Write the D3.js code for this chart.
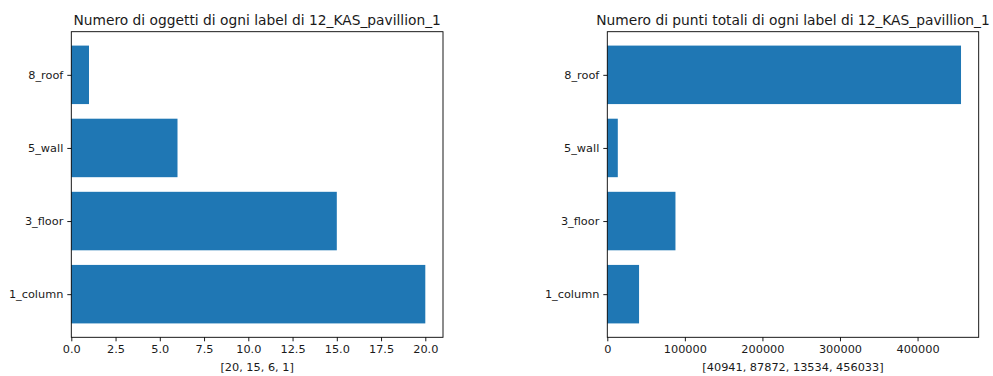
<!DOCTYPE html>
<html>
<head>
<meta charset="utf-8">
<script src="https://cdn.jsdelivr.net/npm/d3@7"></script>
<style>
  html, body { margin: 0; padding: 0; background: #fff; }
  svg { display: block; font-family: "DejaVu Sans", sans-serif; }
</style>
</head>
<body>
<svg id="chart" width="993" height="376"></svg>
<script>
// Labels of the scene and the two measured series
const labels = ["1_column", "3_floor", "5_wall", "8_roof"];
const objectCounts = [20, 15, 6, 1];
const pointCounts = [40941, 87872, 13534, 456033];

const titles = [
  "Numero di oggetti di ogni label di 12_KAS_pavillion_1",
  "Numero di punti totali di ogni label di 12_KAS_pavillion_1"
];
const countTicks = [0, 2.5, 5, 7.5, 10, 12.5, 15, 17.5, 20];
const pointTicks = [0, 100000, 200000, 300000, 400000];

const barColor = "#1f77b4";
const textColor = "#1a1a1a";
const titleSize = 13.8, tickSize = 11.3;
const svg = d3.select("#chart");

const panels = [
  { left: 71.3, right: 443, values: objectCounts, ticks: countTicks,
    fmt: d3.format(".1f"), title: titles[0] },
  { left: 607.3, right: 978.7, values: pointCounts, ticks: pointTicks,
    fmt: d3.format("d"), title: titles[1] }
];
const plotTop = 31.7, plotBottom = 337.3;

// Bars are centred on integer positions with a height of 0.8, plus 5% margins
const y = d3.scaleLinear().domain([-0.59, 3.59]).range([plotBottom, plotTop]);

panels.forEach(p => {
  const xmax = d3.max(p.values) * 1.05;
  const x = d3.scaleLinear().domain([0, xmax]).range([p.left, p.right]);
  const g = svg.append("g");

  g.selectAll("rect.bar")
    .data(p.values)
    .join("rect")
    .attr("class", "bar")
    .attr("x", x(0))
    .attr("y", (d, i) => y(i + 0.4))
    .attr("width", d => x(d) - x(0))
    .attr("height", (d, i) => y(i - 0.4) - y(i + 0.4))
    .attr("fill", barColor);

  // Frame
  g.append("rect")
    .attr("x", p.left).attr("y", plotTop)
    .attr("width", p.right - p.left).attr("height", plotBottom - plotTop)
    .attr("fill", "none").attr("stroke", "#000").attr("stroke-width", 0.9);

  // X axis
  const xAxis = d3.axisBottom(x).tickValues(p.ticks).tickFormat(p.fmt)
    .tickSize(4).tickPadding(3.5);
  const xg = g.append("g").attr("transform", `translate(0,${plotBottom})`).call(xAxis);
  xg.select(".domain").remove();
  xg.selectAll("line").attr("stroke", "#000").attr("stroke-width", 0.9);
  xg.selectAll("text").attr("font-size", tickSize).attr("fill", textColor)
    .attr("font-family", "DejaVu Sans, sans-serif");

  // Y axis
  const yAxis = d3.axisLeft(y).tickValues([0, 1, 2, 3]).tickFormat(i => labels[i])
    .tickSize(4).tickPadding(4);
  const yg = g.append("g").attr("transform", `translate(${p.left},0)`).call(yAxis);
  yg.select(".domain").remove();
  yg.selectAll("line").attr("stroke", "#000").attr("stroke-width", 0.9);
  yg.selectAll("text").attr("font-size", tickSize).attr("fill", textColor)
    .attr("font-family", "DejaVu Sans, sans-serif");

  // X label lists the values
  g.append("text")
    .attr("x", (p.left + p.right) / 2).attr("y", 371)
    .attr("text-anchor", "middle").attr("font-size", tickSize).attr("fill", textColor)
    .text("[" + p.values.join(", ") + "]");

  // Title
  g.append("text")
    .attr("x", (p.left + p.right) / 2).attr("y", 24.5)
    .attr("text-anchor", "middle").attr("font-size", titleSize).attr("fill", textColor)
    .text(p.title);
});
</script>
</body>
</html>
